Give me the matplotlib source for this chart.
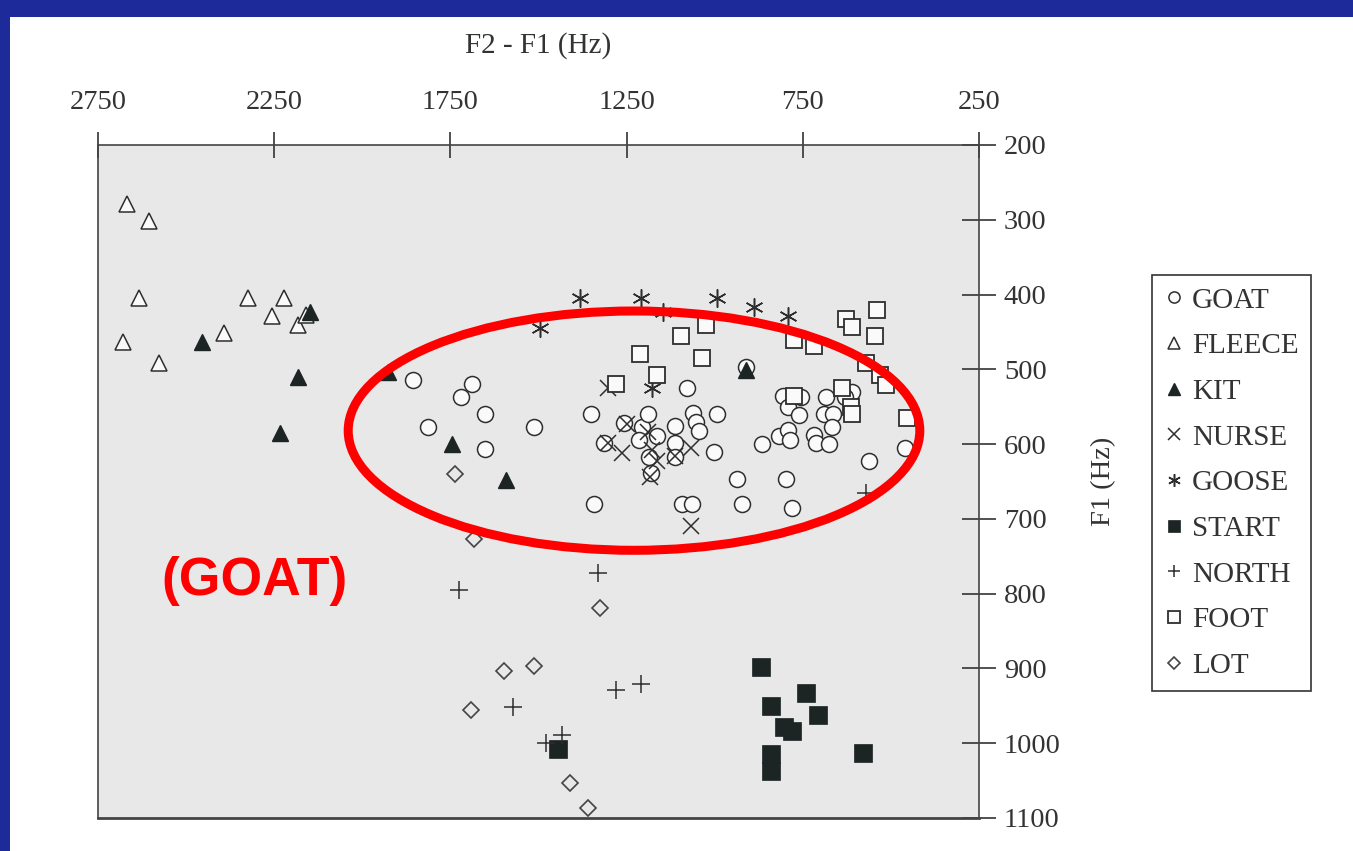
import matplotlib
matplotlib.use("Agg")
import matplotlib.pyplot as plt
from matplotlib.patches import Ellipse, Rectangle

# ---- vowel formant data (F2-F1 and F1, Hz) ----
goat_f2f1 = [1857, 1688, 1719, 1651, 1814, 1514, 1652, 1351, 1342, 1314,
             1257, 1205, 1214, 1165, 1188, 1186, 1181, 1112, 1112, 1112,
             1078, 1061, 1054, 1044, 993, 1002, 1094, 1065, 912, 936,
             923, 799, 780, 865, 818, 792, 785, 807, 792, 756,
             761, 717, 713, 676, 683, 690, 665, 666, 610, 563,
             461, 629]
goat_f1 = [514, 520, 537, 560, 577, 577, 606, 560, 680, 599,
           572, 577, 594, 589, 560, 617, 639, 576, 599, 617,
           525, 559, 571, 583, 560, 611, 680, 680, 497, 647,
           680, 647, 686, 600, 589, 581, 594, 536, 550, 537,
           561, 588, 599, 600, 537, 560, 560, 577, 530, 622,
           605, 537]

fleece_f2f1 = [2669, 2605, 2634, 2678, 2577, 2393, 2324, 2222, 2256, 2183, 2159]
fleece_f1 = [279, 302, 405, 463, 491, 451, 405, 405, 429, 441, 427]

kit_f2f1 = [2147, 2455, 2183, 2234, 1928, 1745, 1592, 912]
kit_f1 = [423, 463, 510, 585, 503, 600, 648, 501]

nurse_f2f1 = [1304, 1304, 1262, 1250, 1189, 1177, 1163, 1183, 1112, 1068, 1066]
nurse_f1 = [525, 599, 612, 573, 584, 608, 622, 644, 616, 605, 709]

goose_f2f1 = [1382, 1210, 1148, 993, 889, 792, 1495, 1177]
goose_f1 = [405, 405, 423, 405, 417, 429, 445, 525]

start_f2f1 = [1446, 870, 741, 839, 707, 804, 780, 839, 839, 580]
start_f1 = [1008, 898, 933, 950, 962, 978, 984, 1015, 1037, 1013]

north_f2f1 = [1330, 1726, 1280, 1210, 1571, 1432, 1479, 572]
north_f1 = [773, 795, 929, 921, 951, 989, 1000, 666]

foot_f2f1 = [1095, 1026, 1212, 1035, 1165, 1280, 539, 627, 610, 544,
             775, 719, 571, 530, 513, 639, 775, 612, 610, 454]
foot_f1 = [456, 441, 479, 485, 508, 520, 421, 433, 444, 456,
           461, 469, 492, 508, 521, 525, 536, 550, 560, 565]

lot_f2f1 = [1736, 1684, 1325, 1599, 1514, 1691, 1411, 1359]
lot_f1 = [640, 727, 819, 904, 897, 955, 1053, 1087]

x_ticks = [2750, 2250, 1750, 1250, 750, 250]
y_ticks = [200, 300, 400, 500, 600, 700, 800, 900, 1000, 1100]

# highlighted region around the GOAT cloud
goat_ellipse_center = (1229, 582)
goat_ellipse_size = (1622, 320)

# ---- styling ----
plt.rcParams['font.family'] = ['Liberation Serif', 'DejaVu Serif']
W, H = 1353, 851
fig = plt.figure(figsize=(W / 100, H / 100), dpi=100)
fig.patch.set_facecolor('#1c2a9a')
fig.add_artist(Rectangle((10 / W, 0), 1, 1 - 17 / H, transform=fig.transFigure,
                         facecolor='white', edgecolor='none', zorder=-10))

ax = fig.add_axes([98 / W, 1 - 818 / H, (979 - 98) / W, (818 - 145) / H])
ax.set_facecolor('#e8e8e8')

ink = '#2e2e2e'
dark = '#1c2424'

series = [
    ('GOAT', goat_f2f1, goat_f1, dict(marker='o', ms=11.5, mfc='#fafafa', mec=ink, mew=1.1)),
    ('FLEECE', fleece_f2f1, fleece_f1, dict(marker='^', ms=11.5, mfc='#fafafa', mec=ink, mew=1.1)),
    ('KIT', kit_f2f1, kit_f1, dict(marker='^', ms=12, mfc=dark, mec=dark, mew=1.0)),
    ('NURSE', nurse_f2f1, nurse_f1, dict(marker='x', ms=12, mec=ink, mew=1.1)),
    ('GOOSE', goose_f2f1, goose_f1, dict(marker=(6, 2, 0), ms=13, mec=ink, mew=1.1)),
    ('START', start_f2f1, start_f1, dict(marker='s', ms=12.5, mfc=dark, mec=dark, mew=0.5)),
    ('NORTH', north_f2f1, north_f1, dict(marker='+', ms=12.5, mec=ink, mew=1.1)),
    ('FOOT', foot_f2f1, foot_f1, dict(marker='s', ms=11.5, mfc='#fafafa', mec=ink, mew=1.3)),
    ('LOT', lot_f2f1, lot_f1, dict(marker='D', ms=8.2, mfc='none', mec='#444444', mew=1.2)),
]

handles = []
for name, xs, ys, st in series:
    h, = ax.plot(xs, ys, linestyle='none', label=name, **st)
    handles.append(h)

ax.set_xlim(2750, 250)
ax.set_ylim(1100, 200)

ax.xaxis.tick_top()
ax.xaxis.set_label_position('top')
ax.yaxis.tick_right()
ax.yaxis.set_label_position('right')
ax.set_xticks(x_ticks)
ax.set_yticks(y_ticks)
ax.tick_params(axis='x', direction='inout', length=19, width=1.2, color='#333333',
               labelsize=20.5, labelcolor='#333333', pad=12)
ax.tick_params(axis='y', direction='inout', length=24, width=1.2, color='#333333',
               labelsize=20.5, labelcolor='#333333', pad=6)
for s in ax.spines.values():
    s.set_color('#444444')
    s.set_linewidth(1.2)
ax.spines['bottom'].set_linewidth(2.0)

ax.set_xlabel('F2 - F1 (Hz)', fontsize=21, color='#333333', labelpad=27)
ax.set_ylabel('F1 (Hz)', fontsize=20.5, color='#333333', labelpad=22)

ax.add_patch(Ellipse(goat_ellipse_center, goat_ellipse_size[0], goat_ellipse_size[1],
                     fill=False, edgecolor='#ff0000', linewidth=6.5, zorder=5))

fig.text(254 / W, 1 - 581 / H, '(GOAT)', color='#ff0000', fontsize=38.5,
         fontweight='bold', family=['Liberation Sans', 'DejaVu Sans'],
         ha='center', va='center')

leg = fig.legend(handles=handles, loc='upper left',
                 bbox_to_anchor=(1152 / W, 1 - 275 / H), bbox_transform=fig.transFigure,
                 fontsize=21, markerscale=0.7, handlelength=0.7, handletextpad=0.25,
                 labelspacing=0.66, borderpad=0.42, borderaxespad=0,
                 fancybox=False, framealpha=1, edgecolor='#333333')
leg.get_frame().set_linewidth(1.2)
for t in leg.get_texts():
    t.set_color('#333333')

fig.savefig('out.png', dpi=100, facecolor=fig.get_facecolor())
